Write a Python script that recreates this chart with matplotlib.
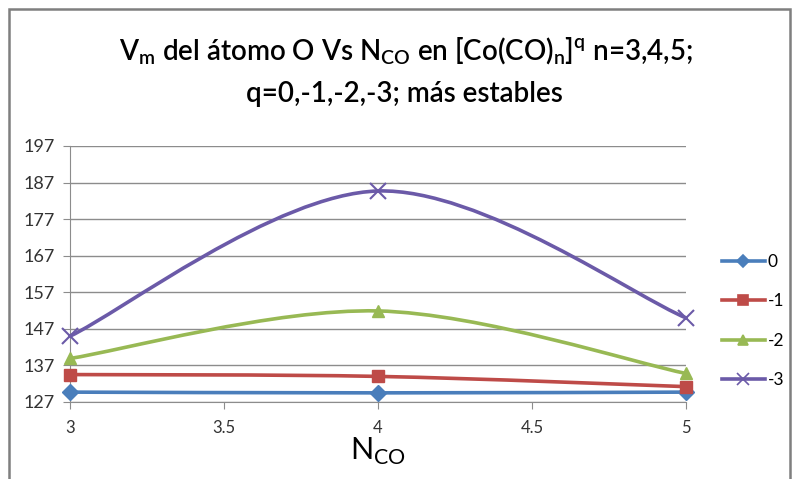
import numpy as np
import matplotlib
matplotlib.use("Agg")
import matplotlib.pyplot as plt
from matplotlib.path import Path
from matplotlib.patches import PathPatch, Rectangle
from matplotlib.lines import Line2D

plt.rcParams['font.family'] = ['Lato', 'DejaVu Sans']
plt.rcParams['mathtext.fontset'] = 'custom'
plt.rcParams['mathtext.rm'] = 'Lato:semibold'

# data
n_co = [3, 4, 5]
series_labels = ['0', '-1', '-2', '-3']
vm_q0 = [129.7, 129.5, 129.7]
vm_q1 = [134.5, 134.0, 131.2]
vm_q2 = [138.9, 151.9, 134.8]
vm_q3 = [145.0, 184.7, 150.0]
y_ticks = [127, 137, 147, 157, 167, 177, 187, 197]
x_ticks = [3, 3.5, 4, 4.5, 5]

colors = ['#4A7EBB', '#BE4B48', '#98B954', '#6B5AA8']
markers = ['D', 's', '^', 'x']
msizes = [8, 9, 9, 11]


def smooth_path(x, y):
    # excel style smoothed line: cubic bezier, catmull-rom control points
    pts = np.column_stack([x, y]).astype(float)
    verts = [pts[0]]
    codes = [Path.MOVETO]
    n = len(pts)
    for i in range(n - 1):
        p0 = pts[i - 1] if i > 0 else pts[i]
        p1 = pts[i]
        p2 = pts[i + 1]
        p3 = pts[i + 2] if i + 2 < n else pts[i + 1]
        c1 = p1 + (p2 - p0) / 6.0
        c2 = p2 - (p3 - p1) / 6.0
        verts += [c1, c2, p2]
        codes += [Path.CURVE4] * 3
    return Path(verts, codes)


fig = plt.figure(figsize=(7.93, 4.79), dpi=100)
W, H = 793, 479
ax = fig.add_axes([70 / W, 1 - 402 / H, (686 - 70) / W, (402 - 146) / H])

all_series = [vm_q0, vm_q1, vm_q2, vm_q3]
handles = []
for vals, c, m, ms, lab in zip(all_series, colors, markers, msizes, series_labels):
    ax.add_patch(PathPatch(smooth_path(n_co, vals), fill=False, edgecolor=c,
                           lw=2.6, capstyle='round', zorder=3))
    ax.plot(n_co, vals, ls='none', marker=m, ms=ms, color=c,
            mec=c, mew=1.5 if m == 'x' else 1, zorder=4, clip_on=False)
    handles.append(Line2D([0], [0], color=c, lw=2.6, marker=m,
                          ms=ms * 0.8, mew=1.2, label=lab))

ax.set_xlim(3, 5)
ax.set_ylim(127, 197)
ax.set_xticks(x_ticks)
ax.set_xticklabels(['3', '3.5', '4', '4.5', '5'])
ax.set_yticks(y_ticks)
ax.grid(axis='y', color='#8c8c8c', lw=1)
ax.set_axisbelow(True)
for s in ['top', 'right']:
    ax.spines[s].set_visible(False)
ax.spines['left'].set_color('#8c8c8c')
ax.spines['bottom'].set_color('#8c8c8c')
ax.tick_params(axis='both', colors='#8c8c8c', length=5, labelcolor='#333333')
ax.tick_params(axis='y', labelsize=13, pad=6)
ax.tick_params(axis='x', labelsize=12, pad=8)

ax.set_xlabel(r'N$_\mathregular{CO}$', fontsize=22, labelpad=0)

fig.text(0.512, 1 - 60 / H,
         r'V$_\mathregular{m}$ del átomo O Vs N$_\mathregular{CO}$ en [Co(CO)$_\mathregular{n}$]$^\mathregular{q}$ n=3,4,5;',
         ha='center', va='baseline', fontsize=20, fontweight='semibold')
fig.text(0.51, 1 - 102 / H, 'q=0,-1,-2,-3; más estables',
         ha='center', va='baseline', fontsize=20, fontweight='semibold')

fig.legend(handles=handles, loc='center left',
           bbox_to_anchor=(706 / W, 1 - 321 / H), frameon=False,
           fontsize=12.5, handlelength=2.5, labelspacing=1.35, handletextpad=0.15)

# chart frame
fig.patches.append(Rectangle((9 / W, -0.01), (790 - 9) / W, 1 - 9 / H + 0.01,
                             transform=fig.transFigure, fill=False,
                             edgecolor='#7f7f7f', lw=1.8))

fig.savefig('out.png', dpi=100)
